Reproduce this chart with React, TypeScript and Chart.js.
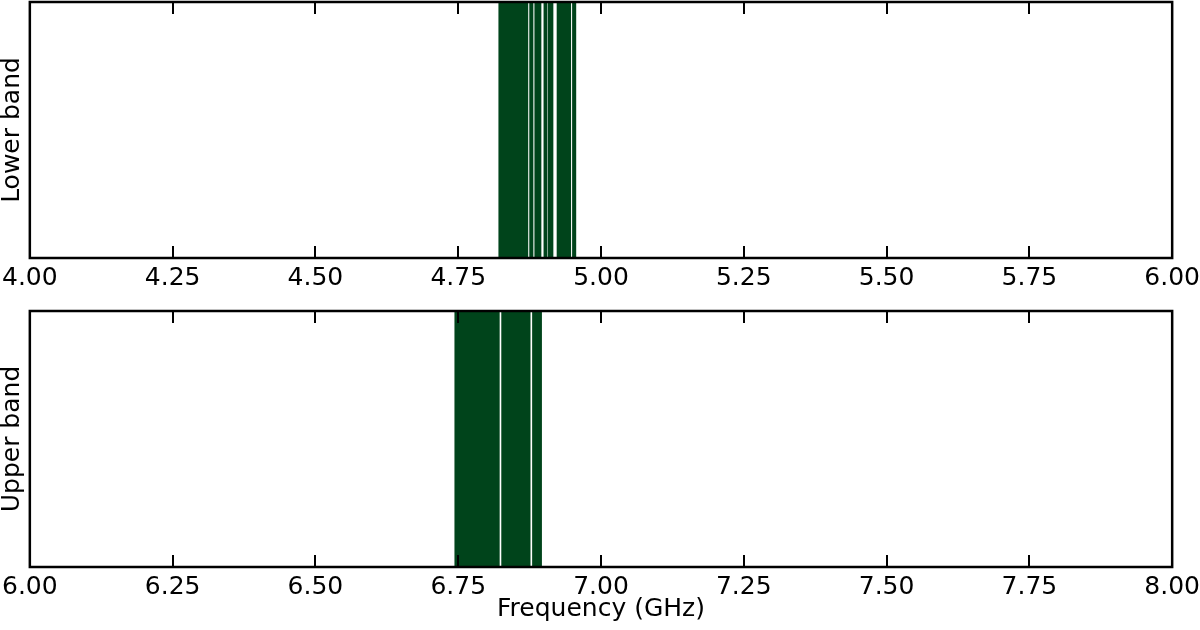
import React, { useEffect, useRef } from "react";
import { Chart, registerables } from "chart.js";

Chart.register(...registerables);

// Frequency bands in GHz (start / end of each shaded spectral window)
const lowerStarts = [4.821, 4.875, 4.884, 4.9, 4.907, 4.923, 4.95];
const lowerEnds = [4.872, 4.881, 4.895, 4.905, 4.916, 4.947, 4.956];
const upperStarts = [6.744, 6.826, 6.88];
const upperEnds = [6.822, 6.876, 6.896];

const lowerRange = [4, 6];
const upperRange = [6, 8];
const tickStep = 0.25;
const xAxisTitle = "Frequency (GHz)";

const BAND_COLOR = "#00441b";
const FONT = "'DejaVu Sans', sans-serif";
const FONT_SIZE = 25;

const frameTicks = {
  id: "frameTicks",
  afterDraw(chart: any) {
    const { ctx, chartArea, scales } = chart;
    const { left, right, top, bottom } = chartArea;
    const x = scales.x;
    ctx.save();
    ctx.strokeStyle = "#000";
    ctx.lineWidth = 2;
    x.ticks.forEach((t: any) => {
      const px = Math.round(x.getPixelForValue(t.value));
      ctx.beginPath();
      ctx.moveTo(px, bottom);
      ctx.lineTo(px, bottom - 12);
      ctx.moveTo(px, top);
      ctx.lineTo(px, top + 12);
      ctx.stroke();
    });
    ctx.lineWidth = 2.5;
    ctx.strokeRect(left, top, right - left, bottom - top);
    ctx.restore();
  },
};

function makeConfig(
  label: string,
  starts: number[],
  ends: number[],
  range: number[],
  padTop: number,
  padBottom: number
): any {
  return {
    type: "bar",
    data: {
      labels: [label],
      datasets: [
        {
          data: starts.map((s, i) => ({ x: [s, ends[i]], y: label })),
          backgroundColor: BAND_COLOR,
          borderWidth: 0,
          barPercentage: 1,
          categoryPercentage: 1,
        },
      ],
    },
    options: {
      indexAxis: "y",
      responsive: false,
      animation: false,
      devicePixelRatio: 1,
      layout: { padding: { top: padTop, left: 1, right: 0, bottom: padBottom } },
      plugins: {
        legend: { display: false },
        tooltip: { enabled: false },
      },
      scales: {
        x: {
          type: "linear",
          min: range[0],
          max: range[1],
          grid: { display: false, drawTicks: false },
          border: { display: false },
          ticks: {
            stepSize: tickStep,
            autoSkip: false,
            maxRotation: 0,
            padding: 8,
            color: "#000",
            font: { family: FONT, size: FONT_SIZE, lineHeight: 1 },
            callback: (v: number) => Number(v).toFixed(2),
          },
        },
        y: {
          type: "category",
          offset: true,
          grid: { display: false, drawTicks: false },
          border: { display: false },
          ticks: { display: false },
          title: {
            display: true,
            text: label,
            color: "#000",
            font: { family: FONT, size: FONT_SIZE, lineHeight: 1 },
            padding: { top: 0, bottom: 5 },
          },
        },
      },
    },
    plugins: [frameTicks],
  };
}

function Panel(props: {
  label: string;
  starts: number[];
  ends: number[];
  range: number[];
  top: number;
  height: number;
  padTop: number;
  padBottom: number;
}) {
  const ref = useRef<HTMLCanvasElement | null>(null);
  useEffect(() => {
    if (!ref.current) return;
    const chart = new Chart(
      ref.current,
      makeConfig(props.label, props.starts, props.ends, props.range, props.padTop, props.padBottom)
    );
    return () => chart.destroy();
  }, []);
  return (
    <canvas
      ref={ref}
      width={1214}
      height={props.height}
      style={{ position: "absolute", left: -6, top: props.top, width: 1214, height: props.height }}
    />
  );
}

export default function App() {
  return (
    <div
      style={{
        position: "absolute",
        left: 0,
        top: 0,
        width: 1200,
        height: 630,
        background: "#fff",
        overflow: "hidden",
      }}
    >
      <Panel
        label="Lower band"
        starts={lowerStarts}
        ends={lowerEnds}
        range={lowerRange}
        top={0}
        height={299}
        padTop={2}
        padBottom={0}
      />
      <Panel
        label="Upper band"
        starts={upperStarts}
        ends={upperEnds}
        range={upperRange}
        top={300}
        height={330}
        padTop={11}
        padBottom={22}
      />
      <div
        style={{
          position: "absolute",
          left: 30,
          width: 1142,
          top: 595,
          height: 25,
          lineHeight: "25px",
          textAlign: "center",
          fontFamily: FONT,
          fontSize: FONT_SIZE,
          color: "#000",
          whiteSpace: "nowrap",
        }}
      >
        {xAxisTitle}
      </div>
    </div>
  );
}
